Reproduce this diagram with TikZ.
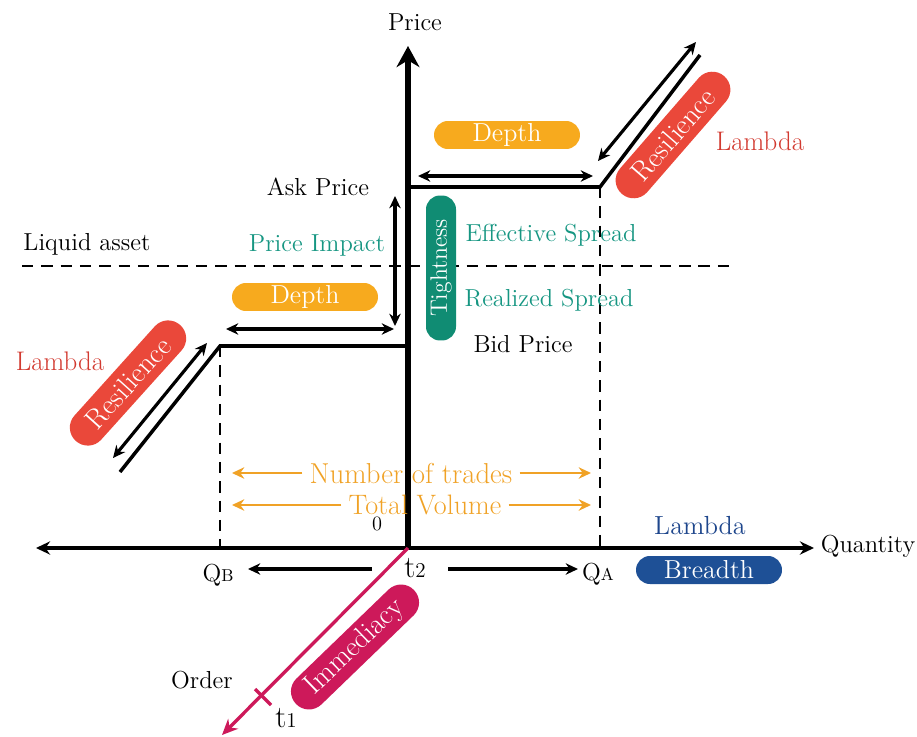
\documentclass[tikz,border=0pt]{standalone}
\usetikzlibrary{arrows.meta}
\definecolor{pillred}{RGB}{234,72,58}
\definecolor{txtred}{RGB}{210,58,48}
\definecolor{pillorange}{RGB}{247,170,30}
\definecolor{txtorange}{RGB}{240,162,38}
\definecolor{pillteal}{RGB}{16,140,115}
\definecolor{txtteal}{RGB}{22,150,130}
\definecolor{pillblue}{RGB}{30,80,150}
\definecolor{txtblue}{RGB}{30,70,140}
\definecolor{pinkc}{RGB}{205,25,90}
\begin{document}
\begin{tikzpicture}[x=0.02cm,y=-0.02cm,
  lbl/.style={font=\fontsize{14}{17}\selectfont, inner sep=0pt},
  pill/.style={rounded corners=7.9pt, inner sep=0pt, text=white, minimum height=0.56cm, minimum width=2.92cm, font=\fontsize{14.8}{17}\selectfont},
  bigpill/.style={rounded corners=10.2pt, inner sep=0pt, text=white, minimum height=0.72cm, font=\fontsize{16.3}{19}\selectfont},
  axis/.style={line width=2pt},
  axhead/.style={-{Stealth[length=8pt,width=7.5pt]}},
  dbl/.style={line width=1.8pt, {Stealth[length=7pt,width=6.5pt]}-{Stealth[length=7pt,width=6.5pt]}},
  sgl/.style={line width=1.8pt, -{Stealth[length=7pt,width=6.5pt]}},
  orng/.style={line width=1.6pt, draw=txtorange, -{Stealth[length=7pt,width=6.5pt]}},
  dsh/.style={line width=1.3pt, dash pattern=on 6.5pt off 4.5pt},
  lvl/.style={line width=2pt}]
\useasboundingbox (0,0) rectangle (917,737);

% key coordinates
\coordinate (O) at (408,548);
\coordinate (Ptip) at (408,46);
\coordinate (Qtip) at (814,548);
\coordinate (Ltip) at (36,548);
\coordinate (A0) at (408,187);
\coordinate (A1) at (600,187);
\coordinate (A1b) at (600,548);
\coordinate (B0) at (408,346);
\coordinate (B1) at (220,346);
\coordinate (B1b) at (220,548);
\coordinate (RT) at (700,55);
\coordinate (RL) at (120,472);
\coordinate (ratl) at (598,161);
\coordinate (ratu) at (696,42);
\coordinate (rall) at (113,458);
\coordinate (ralu) at (207,343);
\coordinate (LQl) at (22,266);
\coordinate (LQr) at (737,266);
\coordinate (Ord) at (222,735);
\coordinate (tk1) at (255,689);
\coordinate (tk2) at (271,705);

% liquid asset dashed line
\draw[dsh] (LQl) -- (LQr);
% dashed verticals
\draw[dsh] (A1) -- (A1b);
\draw[dsh] (B1) -- (B1b);

% axes
\draw[axis, axhead] (O) -- (Qtip);
\draw[axis, axhead] (O) -- (Ltip);
\draw[line width=3pt, -{Stealth[length=12pt,width=13pt]}] (O) -- (Ptip);

% ask / bid price levels
\draw[lvl] (A0) -- (A1) -- (RT);
\draw[lvl] (B0) -- (B1) -- (RL);

% resilience arrows
\draw[dbl] (ratl) -- (ratu);
\draw[dbl] (rall) -- (ralu);

% depth arrows
\coordinate (da1) at (418,176);
\coordinate (da2) at (593,176);
\draw[dbl] (da1) -- (da2);
\coordinate (db1) at (226,329);
\coordinate (db2) at (394,329);
\draw[dbl] (db1) -- (db2);
% price impact arrow
\coordinate (pi1) at (395,196);
\coordinate (pi2) at (395,326);
\draw[dbl] (pi1) -- (pi2);

% order axis (immediacy)
\draw[line width=1.9pt, draw=pinkc, -{Stealth[length=9pt,width=8pt]}] (O) -- (Ord);
\draw[line width=1.9pt, draw=pinkc] (tk1) -- (tk2);

% labels
\node[lbl] (price) at (415,22) {Price};
\node[lbl] (qty) at (868,546) {Quantity};
\node[lbl] (ask) at (318,187) {Ask Price};
\node[lbl] (bid) at (523,344) {Bid Price};
\node[lbl] (liq) at (87,244) {Liquid asset};
\node[lbl, text=txtteal] (pimp) at (317,245) {Price Impact};
\node[lbl, text=txtteal] (eff) at (551,235) {Effective Spread};
\node[lbl, text=txtteal] (rea) at (549,300) {Realized Spread};
\node[lbl, text=txtred, font=\fontsize{15.3}{18}\selectfont] (lamR) at (760,141) {Lambda};
\node[lbl, text=txtred, font=\fontsize{15.3}{18}\selectfont] (lamL) at (60,361) {Lambda};
\node[lbl, text=txtblue, font=\fontsize{14.9}{18}\selectfont] (lamB) at (700,526) {Lambda};
\node[lbl, font=\fontsize{11.6}{14}\selectfont] (zero) at (377,524) {0};
\node[lbl] (qb) at (218,575) {Q{\fontsize{9.8}{12}\selectfont B}};
\node[lbl] (qa) at (598,574) {Q{\fontsize{9.8}{12}\selectfont A}};
\node[lbl, font=\fontsize{17.7}{21}\selectfont] (t2) at (415,568) {t{\fontsize{12}{14}\selectfont 2}};
\node[lbl] (ord) at (202,680) {Order};
\node[lbl, font=\fontsize{17.7}{21}\selectfont] (t1) at (286,718) {t{\fontsize{12}{14}\selectfont 1}};

% QB / QA arrows
\coordinate (qbs) at (372,569);
\coordinate (qbt) at (248,569);
\coordinate (qas) at (448,569);
\coordinate (qat) at (578,569);
\draw[sgl] (qbs) -- (qbt);
\draw[sgl] (qas) -- (qat);

% orange volume arrows
\node[lbl, text=txtorange, font=\fontsize{16.4}{19}\selectfont] (ntr) at (411,473) {Number of trades};
\node[lbl, text=txtorange, font=\fontsize{16}{19}\selectfont] (tvol) at (425,505) {Total Volume};
\coordinate (nl) at (232,473);
\coordinate (nr) at (591,473);
\coordinate (vl) at (232,505);
\coordinate (vr) at (591,505);
\draw[orng] ([xshift=-4pt]ntr.west) -- (nl);
\draw[orng] ([xshift=4pt]ntr.east) -- (nr);
\draw[orng] ([xshift=-4pt]tvol.west) -- (vl);
\draw[orng] ([xshift=4pt]tvol.east) -- (vr);

% pills
\node[pill, fill=pillorange] (dtop) at (507,135) {Depth};
\node[pill, fill=pillorange] (dlow) at (305,297) {Depth};
\node[pill, fill=pillblue] (brd) at (709,570) {Breadth};
\node[pill, fill=pillteal, rotate=90, minimum width=2.9cm, minimum height=0.6cm, font=\fontsize{13.5}{16}\selectfont] (tight) at (441,268) {Tightness};
\node[bigpill, fill=pillred, rotate=49, minimum width=3.12cm] (resT) at (673,135) {Resilience};
\node[bigpill, fill=pillred, rotate=48, minimum width=3.12cm] (resL) at (128,383) {Resilience};
\node[bigpill, fill=pinkc, rotate=44, minimum width=3.28cm] (imm) at (355,647) {Immediacy};
\end{tikzpicture}
\end{document}
